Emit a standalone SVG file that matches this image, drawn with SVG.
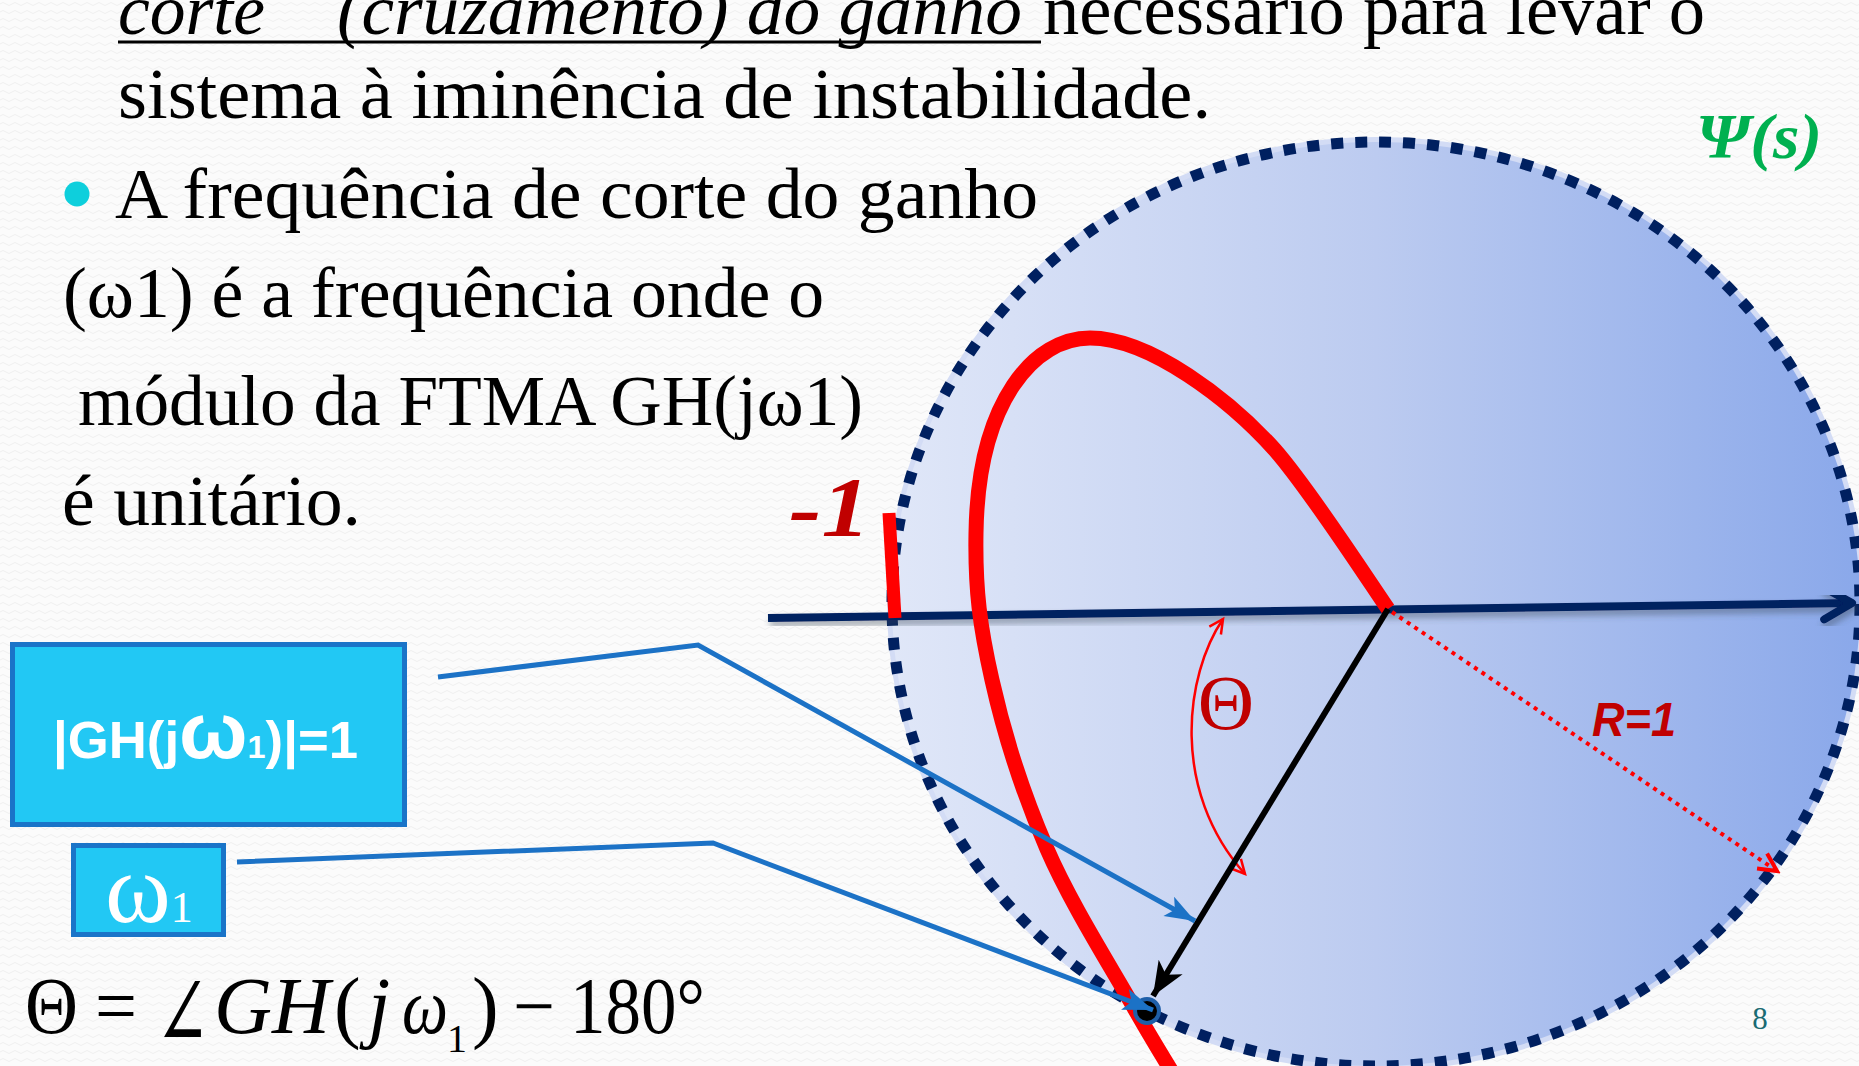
<svg xmlns="http://www.w3.org/2000/svg" width="1859" height="1066" viewBox="0 0 1859 1066">
<defs>
<pattern id="bg" width="12" height="8" patternUnits="userSpaceOnUse">
<rect width="12" height="8" fill="#fbfbfb"/>
<path d="M0,4 Q3,1 6,4 T12,4" fill="none" stroke="#efefef" stroke-width="1"/>
</pattern>
<linearGradient id="fillGrad" x1="892" y1="0" x2="1860" y2="0" gradientUnits="userSpaceOnUse">
<stop offset="0" stop-color="#e0e7f8"/>
<stop offset="0.5" stop-color="#bccbf0"/>
<stop offset="1" stop-color="#8aa8ea"/>
</linearGradient>
<filter id="shadow" x="-5%" y="-50%" width="110%" height="200%">
<feDropShadow dx="2" dy="5" stdDeviation="3" flood-color="#3a4a5a" flood-opacity="0.45"/>
</filter>
<marker id="axisArrow" markerUnits="userSpaceOnUse" viewBox="-40 -22 46 44" markerWidth="46" markerHeight="44" refX="0" refY="0" orient="auto">
<path d="M-28,-16 L0,0 L-28,16" fill="none" stroke="#002060" stroke-width="8" stroke-linecap="round" stroke-linejoin="round"/>
</marker>
<marker id="blackArrow" markerUnits="userSpaceOnUse" viewBox="-40 -20 44 40" markerWidth="44" markerHeight="40" refX="0" refY="0" orient="auto">
<path d="M0,0 L-34,-14 L-25,0 L-34,14 Z" fill="#000"/>
</marker>
<marker id="blueArrow" markerUnits="userSpaceOnUse" viewBox="-36 -16 40 32" markerWidth="40" markerHeight="32" refX="0" refY="0" orient="auto">
<path d="M0,0 L-30,-11 L-23,0 L-30,11 Z" fill="#1c72c6"/>
</marker>
<marker id="redOpen" markerUnits="userSpaceOnUse" viewBox="-20 -12 24 24" markerWidth="24" markerHeight="24" refX="0" refY="0" orient="auto-start-reverse">
<path d="M-14,-7 L0,0 L-14,7" fill="none" stroke="#ff0000" stroke-width="2.5"/>
</marker>
<marker id="redOpenThick" markerUnits="userSpaceOnUse" viewBox="-24 -14 28 28" markerWidth="28" markerHeight="28" refX="0" refY="0" orient="auto">
<path d="M-18,-9 L0,0 L-18,9" fill="none" stroke="#ff0000" stroke-width="4"/>
</marker>
</defs>
<style>
.body{font-family:"Liberation Serif","Times New Roman",serif;font-size:72px;fill:#000}
.math{font-family:"Liberation Serif","Times New Roman",serif;font-size:80px;fill:#000}
.box{fill:#22c8f4;stroke:#1a74c8;stroke-width:5}
.conn{fill:none;stroke:#1c72c6;stroke-width:5}
.axis{stroke:#002060;stroke-width:8;fill:none}
</style>
<rect width="1859" height="1066" fill="url(#bg)"/>

<g id="text-block">
<text class="body" y="34"><tspan x="118" font-style="italic" textLength="147" lengthAdjust="spacingAndGlyphs">corte</tspan><tspan x="337" font-style="italic" textLength="685" lengthAdjust="spacingAndGlyphs">(cruzamento) do ganho</tspan><tspan x="1043" textLength="662" lengthAdjust="spacingAndGlyphs">necessário para levar o</tspan></text>
<rect x="118" y="40.5" width="923" height="3" fill="#000"/>
<text class="body" x="118" y="118" textLength="1093" lengthAdjust="spacingAndGlyphs">sistema à iminência de instabilidade.</text>
<circle cx="77" cy="194" r="12.5" fill="#0ecfdc"/>
<text class="body" x="115" y="218" textLength="923" lengthAdjust="spacingAndGlyphs">A frequência de corte do ganho</text>
<text class="body" x="63" y="317" textLength="761" lengthAdjust="spacingAndGlyphs">(ω1) é a frequência onde o</text>
<text class="body" x="78" y="425" textLength="785" lengthAdjust="spacingAndGlyphs">módulo da FTMA GH(jω1)</text>
<text class="body" x="62" y="525" textLength="299" lengthAdjust="spacingAndGlyphs">é unitário.</text>
</g>

<g id="region">
<ellipse cx="1376" cy="604" rx="489" ry="467" fill="#d3dcf5"/>
<ellipse cx="1376" cy="604" rx="484" ry="462" fill="url(#fillGrad)"/>
<ellipse cx="1376" cy="604" rx="484" ry="462" fill="none" stroke="#002060" stroke-width="11" stroke-dasharray="12 12"/>
</g>

<g id="axes">
<line x1="768" y1="618" x2="1852" y2="603" class="axis" filter="url(#shadow)" marker-end="url(#axisArrow)"/>
<line x1="1388" y1="1070" x2="1388" y2="20" class="axis" filter="url(#shadow)" marker-end="url(#axisArrow)"/>
</g>

<g id="nyquist-curve">
<path d="M1388,609 C1370,583 1310,490 1275,450 C1230,400 1150,338 1090,338 C1035,338 978,400 976,533 C975,590 980,627 992,680 C1003.8,732.7 1023.5,794.7 1047,849 C1070.5,903.3 1110.8,966.7 1133,1006 C1155.2,1045.3 1172.2,1071.8 1180,1085" fill="none" stroke="#ff0000" stroke-width="15"/>
</g>

<g id="minus-one">
<line x1="889" y1="513" x2="895" y2="618" stroke="#ff0000" stroke-width="13"/>
<text x="789" y="536" font-family="'Liberation Serif',serif" font-weight="bold" font-style="italic" font-size="84" fill="#c00000" textLength="81" lengthAdjust="spacingAndGlyphs">-1</text>
</g>

<g id="psi-label">
<text x="1696" y="158" font-family="'Liberation Serif',serif" font-weight="bold" font-style="italic" font-size="64" fill="#00b050" textLength="126" lengthAdjust="spacingAndGlyphs">Ψ(s)</text>
</g>

<g id="radius">
<line x1="1392" y1="612" x2="1777" y2="871" stroke="#ff0000" stroke-width="4" stroke-dasharray="4 5" marker-end="url(#redOpenThick)"/>
<text x="1592" y="736" font-family="'Liberation Sans',Arial,sans-serif" font-weight="bold" font-style="italic" font-size="48" fill="#c00000" textLength="84" lengthAdjust="spacingAndGlyphs">R=1</text>
</g>

<g id="theta-angle">
<path d="M1223,619 C1185,675 1170,790 1245,874" fill="none" stroke="#ff0000" stroke-width="2.5" marker-start="url(#redOpen)" marker-end="url(#redOpen)"/>
<text x="1226" y="729" text-anchor="middle" font-family="'Liberation Serif',serif" font-size="78" fill="#c00000">Θ</text>
</g>

<g id="vector">
<line x1="1388" y1="609" x2="1153" y2="996" stroke="#000" stroke-width="6" marker-end="url(#blackArrow)"/>
<circle cx="1147" cy="1011" r="12" fill="#000" stroke="#1f5fa8" stroke-width="4"/>
</g>

<g id="box-gh">
<rect class="box" x="12.5" y="644.5" width="392" height="180"/>
<text x="53" y="758" font-family="'Liberation Sans',Arial,sans-serif" font-weight="bold" fill="#fff" textLength="305" lengthAdjust="spacingAndGlyphs"><tspan font-size="52">|GH(j</tspan><tspan font-size="80">ω</tspan><tspan font-size="32">1</tspan><tspan font-size="52">)|=1</tspan></text>
</g>

<g id="box-omega">
<rect class="box" x="73.5" y="845.5" width="150" height="89"/>
<text x="105" y="922" font-family="'Liberation Serif',serif" fill="#fff"><tspan font-size="100">ω</tspan><tspan font-size="44">1</tspan></text>
</g>

<g id="connectors">
<polyline class="conn" points="438,677 698,645 1195,921" marker-end="url(#blueArrow)"/>
<polyline class="conn" points="237,862 713,843 1153,1010" marker-end="url(#blueArrow)"/>
</g>

<g id="equation">
<text class="math" x="25" y="1033" textLength="53" lengthAdjust="spacingAndGlyphs">Θ</text>
<text class="math" x="95" y="1033" textLength="42" lengthAdjust="spacingAndGlyphs">=</text>
<text class="math" x="155" y="1047" style="font-family:'DejaVu Serif',serif;font-size:100px" textLength="55" lengthAdjust="spacingAndGlyphs">∠</text>
<text class="math" x="214" y="1033" font-style="italic" textLength="116" lengthAdjust="spacingAndGlyphs">GH</text>
<text class="math" x="334" y="1033">(</text>
<text class="math" x="368" y="1033" font-style="italic">j</text>
<text class="math" x="402" y="1033" font-style="italic" textLength="46" lengthAdjust="spacingAndGlyphs">ω</text>
<text class="math" x="447" y="1052" style="font-size:40px">1</text>
<text class="math" x="472" y="1033">)</text>
<text class="math" x="513" y="1033" textLength="42" lengthAdjust="spacingAndGlyphs">−</text>
<text class="math" x="570" y="1033" textLength="135" lengthAdjust="spacingAndGlyphs">180°</text>
</g>

<g id="page-number">
<text x="1760" y="1029" text-anchor="middle" font-family="'Liberation Serif',serif" font-size="31" fill="#1a6b73">8</text>
</g>
</svg>
